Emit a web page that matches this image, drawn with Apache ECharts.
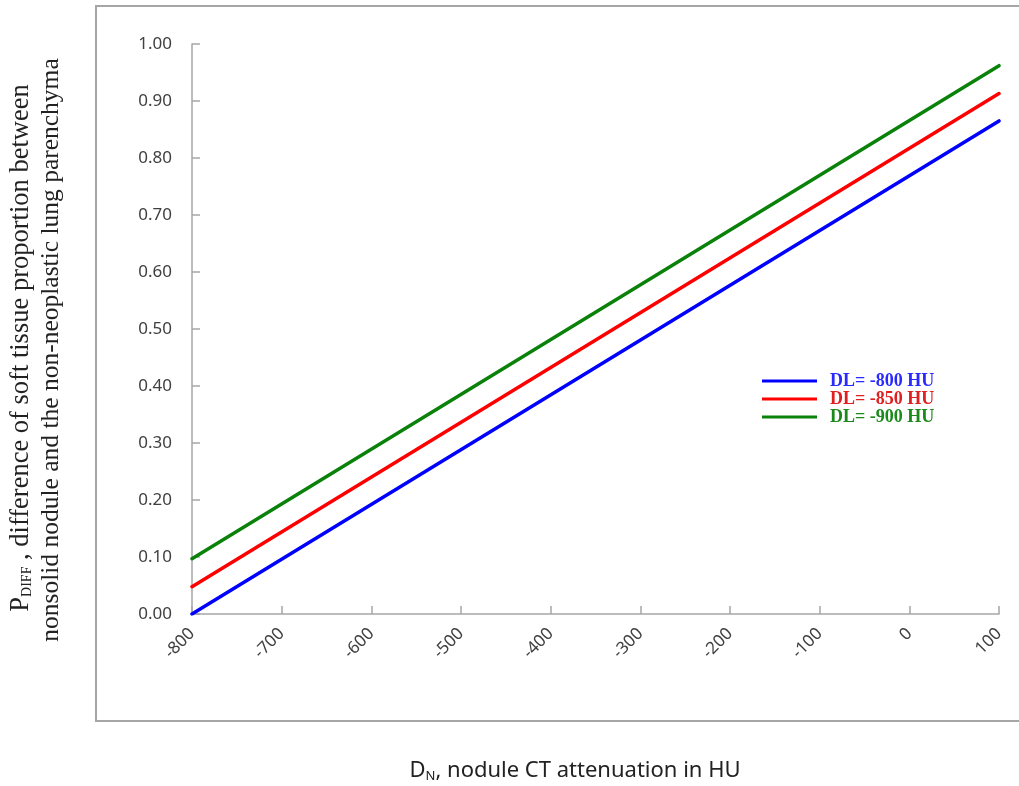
<!DOCTYPE html>
<html><head><meta charset="utf-8">
<script src="https://cdn.jsdelivr.net/npm/echarts@6/dist/echarts.min.js"></script>
<style>html,body{margin:0;padding:0;background:#fff}#c{width:1019px;height:786px}</style>
</head><body><div id="c"></div>
<script>
const seriesNames = ['DL= -800 HU', 'DL= -850 HU', 'DL= -900 HU'];
const xPoints = [-800, 100];
const blueValues = [0.000, 0.865];
const redValues = [0.048, 0.913];
const greenValues = [0.097, 0.962];
const xTicks = [-800, -700, -600, -500, -400, -300, -200, -100, 0, 100];
const yTicks = [0, 0.1, 0.2, 0.3, 0.4, 0.5, 0.6, 0.7, 0.8, 0.9, 1.0];
const colors = ['#0000ff', '#ff0000', '#0a820a'];
const textColors = ['#2a2aff', '#e02020', '#1a8a1a'];

const allValues = [blueValues, redValues, greenValues];
const chart = echarts.init(document.getElementById('c'), null, {renderer: 'canvas'});
const tickFont = '"Noto Sans", "Liberation Sans", sans-serif';

chart.setOption({
  animation: false,
  grid: {left: 192, right: 20, top: 44, bottom: 172, containLabel: false},
  legend: {
    orient: 'vertical', left: 757, top: 367, itemWidth: 55, itemHeight: 3, itemGap: 0,
    icon: 'rect',
    data: seriesNames.map((n, i) => ({name: n, textStyle: {color: textColors[i]}})),
    textStyle: {fontFamily: '"Liberation Serif", serif', fontWeight: 'bold', fontSize: 18, padding: [0,0,0,8]}
  },
  xAxis: {
    type: 'value', min: xTicks[0], max: xTicks[xTicks.length - 1], interval: 100,
    axisLine: {show: true, onZero: false, lineStyle: {color: '#a6a6a6', width: 1.5}},
    axisTick: {show: true, inside: true, length: 8, lineStyle: {color: '#a6a6a6', width: 1.5}},
    splitLine: {show: false},
    axisLabel: {rotate: 45, margin: 17, fontSize: 17, color: '#404040', fontFamily: tickFont,
      showMinLabel: true, showMaxLabel: true}
  },
  yAxis: {
    type: 'value', min: yTicks[0], max: yTicks[yTicks.length - 1], interval: 0.1,
    axisLine: {show: true, onZero: false, lineStyle: {color: '#a6a6a6', width: 1.5}},
    axisTick: {show: true, inside: true, length: 8, lineStyle: {color: '#a6a6a6', width: 1.5}},
    splitLine: {show: false},
    axisLabel: {margin: 20, fontSize: 17, color: '#404040', fontFamily: tickFont,
      formatter: v => v.toFixed(2)}
  },
  series: seriesNames.map((n, i) => ({
    name: n, type: 'line', showSymbol: false, symbol: 'none',
    data: xPoints.map((x, j) => [x, allValues[i][j]]),
    lineStyle: {color: colors[i], width: 3.5, cap: 'round'},
    itemStyle: {color: colors[i]}
  })),
  graphic: [
    {type: 'rect', shape: {x: 96, y: 6, width: 960, height: 715},
      style: {fill: 'none', stroke: '#a6a6a6', lineWidth: 2}, silent: true},
    {type: 'text', x: 21, y: 348, rotation: Math.PI / 2,
      style: {text: '{a|P}{b|DIFF}{a| , difference of soft tissue proportion between}',
        align: 'center', verticalAlign: 'middle', fill: '#222',
        rich: {a: {fontFamily: '"Liberation Serif", serif', fontSize: 26.5, fill: '#222'},
               b: {fontFamily: '"Liberation Serif", serif', fontSize: 14, fill: '#222', padding: [12,0,0,0]}}}},
    {type: 'text', x: 51, y: 350, rotation: Math.PI / 2,
      style: {text: 'nonsolid nodule and the non-neoplastic lung parenchyma',
        align: 'center', verticalAlign: 'middle', fill: '#222',
        font: '25.5px "Liberation Serif", serif'}},
    {type: 'text', x: 575, y: 771,
      style: {text: '{a|D}{b|N}{a|, nodule CT attenuation in HU}', align: 'center', verticalAlign: 'middle',
        rich: {a: {fontFamily: '"Noto Sans", sans-serif', fontSize: 22, fill: '#222'},
               b: {fontFamily: '"Noto Sans", sans-serif', fontSize: 13, fill: '#222', padding: [10,0,0,0]}}}}
  ]
});
</script></body></html>
